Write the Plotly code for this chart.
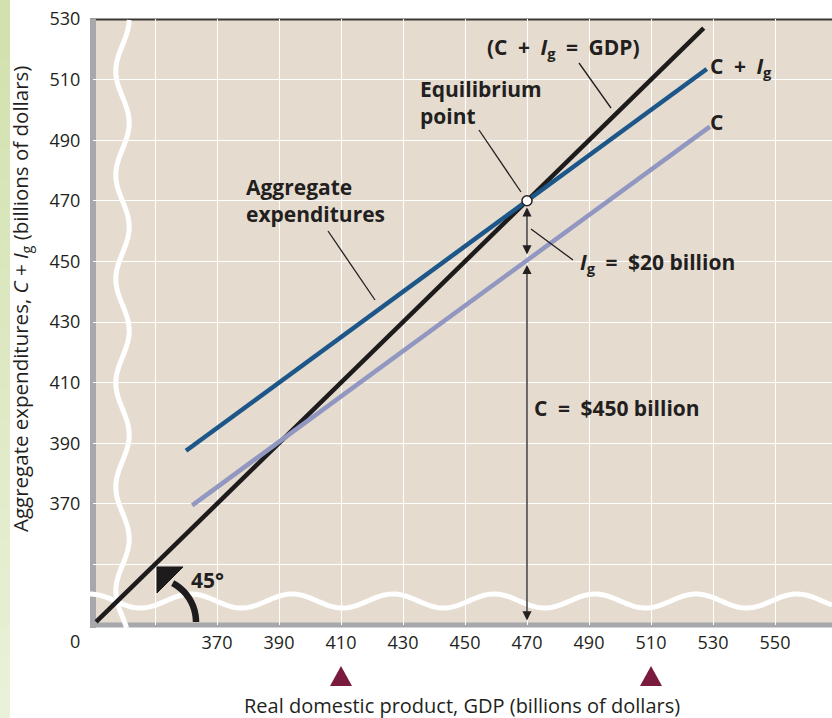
import numpy as np
import plotly.graph_objects as go

# ---------------- data ----------------
gdp_45 = [331, 527]          # 45-degree line (C + Ig = GDP)
ae_45 = [331, 527]
gdp_cig = [360, 528]         # aggregate expenditures C + Ig
cig_vals = [387.5, 513.5]
gdp_c = [362, 529]           # consumption C
c_vals = [369.5, 494.5]
eq_gdp = [470]
eq_ae = [470]
c_at_eq = 450
axis_floor = 331.5
x_ticks = [350, 370, 390, 410, 430, 450, 470, 490, 510, 530, 550]
x_tick_text = ["", "370", "390", "410", "430", "450", "470", "490", "510", "530", "550"]
y_ticks = [350, 370, 390, 410, 430, 450, 470, 490, 510, 530]
y_tick_text = ["", "370", "390", "410", "430", "450", "470", "490", "510", "530"]
marker_gdp = [410, 510]

# ---------------- layout geometry ----------------
WIDTH, HEIGHT = 832, 718
L, T = 93, 19
W, H = 739, 606
XR = [330, 330 + W / 3.1]
YR = [330, 530]

def pxx(px):
    return (px - L) / W

def pxy(py):
    return (T + H - py) / H

def dx(px):
    return XR[0] + (px - L) / W * (XR[1] - XR[0])

def dy(py):
    return YR[1] - (py - T) / H * (YR[1] - YR[0])

INK = "#231f20"
FONT = "Open Sans"
SP = "\u2002"  # wider space, like the original typesetting

fig = go.Figure()

fig.add_trace(go.Scatter(x=gdp_45, y=ae_45, mode="lines",
                         line=dict(color="#1e1b1c", width=4.5), hoverinfo="skip"))
fig.add_trace(go.Scatter(x=gdp_c, y=c_vals, mode="lines",
                         line=dict(color="#9197c0", width=4.5), hoverinfo="skip"))
fig.add_trace(go.Scatter(x=gdp_cig, y=cig_vals, mode="lines",
                         line=dict(color="#1d5688", width=4.5), hoverinfo="skip"))
fig.add_trace(go.Scatter(x=eq_gdp, y=eq_ae, mode="markers",
                         marker=dict(color="white", size=10, line=dict(color=INK, width=1.5)),
                         hoverinfo="skip"))

shapes = []
# green strip on the left (banded gradient)
nb = 24
top_c = np.array([211, 225, 174])
bot_c = np.array([233, 241, 216])
for i in range(nb):
    f = i / (nb - 1)
    col = top_c + (bot_c - top_c) * f
    shapes.append(dict(type="rect", xref="paper", yref="paper",
                       x0=pxx(0), x1=pxx(10), y0=pxy(i * HEIGHT / nb), y1=pxy((i + 1) * HEIGHT / nb + 1),
                       fillcolor="rgb(%d,%d,%d)" % tuple(col), line=dict(width=0), layer="below"))

# borders
shapes.append(dict(type="line", xref="paper", yref="paper", x0=pxx(90), x1=pxx(832), y0=pxy(19.5), y1=pxy(19.5),
                   line=dict(color="#3b3735", width=2), layer="between"))
shapes.append(dict(type="line", xref="paper", yref="paper", x0=pxx(93), x1=pxx(93), y0=pxy(19), y1=pxy(628),
                   line=dict(color="#a6a8ab", width=6), layer="between"))
shapes.append(dict(type="line", xref="paper", yref="paper", x0=pxx(90), x1=pxx(832), y0=pxy(625), y1=pxy(625),
                   line=dict(color="#a6a8ab", width=5), layer="between"))

# axis-break wavy lines
def path_from(pts):
    return "M " + " L ".join("%.5f,%.5f" % (pxx(a), pxy(b)) for a, b in pts)

vy = np.linspace(20, 628, 240)
vx = 122.5 + 6.7 * np.cos(2 * np.pi * (vy - 19) / 104)
shapes.append(dict(type="path", xref="paper", yref="paper", path=path_from(zip(vx, vy)),
                   line=dict(color="white", width=5), layer="between"))
hx = np.linspace(88, 832, 400)
hy = 601 - 7 * np.cos(2 * np.pi * (hx - 90) / 101)
shapes.append(dict(type="path", xref="paper", yref="paper", path=path_from(zip(hx, hy)),
                   line=dict(color="white", width=5), layer="between"))

# 45 degree arc with arrowhead
ang = np.linspace(0, np.radians(62), 40)
ax_ = 152 + 44 * np.cos(ang)
ay_ = 622 - 44 * np.sin(ang)
shapes.append(dict(type="path", xref="paper", yref="paper", path=path_from(zip(ax_, ay_)),
                   line=dict(color="#1e1b1c", width=6.5), layer="above"))
tri = [(157, 567), (183, 567), (157, 593)]
shapes.append(dict(type="path", xref="paper", yref="paper", path=path_from(tri) + " Z",
                   fillcolor="#1e1b1c", line=dict(color="#1e1b1c", width=1), layer="above"))

# maroon triangles under the GDP axis
half = 11 * (XR[1] - XR[0]) / W
for g in marker_gdp:
    shapes.append(dict(type="path", xref="x", yref="paper",
                       path="M %.4f,%.5f L %.4f,%.5f L %.4f,%.5f Z" % (g - half, pxy(686), g + half, pxy(686), g, pxy(666)),
                       fillcolor="#7a1a3e", line=dict(width=0), layer="above"))

# leader lines
for (x0, y0, x1, y1) in [(579, 63, 611, 108), (479, 130, 521, 192), (328, 231, 375, 300), (531, 229, 573, 260)]:
    shapes.append(dict(type="line", xref="x", yref="y", x0=dx(x0), y0=dy(y0), x1=dx(x1), y1=dy(y1),
                       line=dict(color=INK, width=1.3), layer="above"))

annotations = []
# double arrows along the equilibrium GDP
annotations.append(dict(x=eq_gdp[0], y=c_at_eq, ax=eq_gdp[0], ay=eq_ae[0], xref="x", yref="y", axref="x", ayref="y",
                        text="", showarrow=True, arrowhead=2, startarrowhead=2, arrowside="end+start",
                        arrowsize=1.4, startarrowsize=1.4, arrowwidth=1.3, arrowcolor=INK,
                        standoff=7, startstandoff=5))
annotations.append(dict(x=eq_gdp[0], y=axis_floor, ax=eq_gdp[0], ay=c_at_eq, xref="x", yref="y", axref="x", ayref="y",
                        text="", showarrow=True, arrowhead=2, startarrowhead=2, arrowside="end+start",
                        arrowsize=1.4, startarrowsize=1.4, arrowwidth=1.3, arrowcolor=INK,
                        standoff=0, startstandoff=2))

def label(txt, x, y, size=21, xanchor="left", bold=True, align="left"):
    annotations.append(dict(text=("<b>%s</b>" % txt) if bold else txt, xref="paper", yref="paper",
                            x=pxx(x), y=pxy(y), xanchor=xanchor, yanchor="middle", showarrow=False,
                            align=align, font=dict(family=FONT, size=size, color=INK)))

label("(C" + SP + "+" + SP + "<i>I</i><sub>g</sub>" + SP + "=" + SP + "GDP)", 563, 48, xanchor="center")
label("C" + SP + "+" + SP + "<i>I</i><sub>g</sub>", 708, 67)
label("C", 708, 122)
label("Equilibrium<br>point", 418, 102)
label("Aggregate<br>expenditures", 244, 200)
label("<i>I</i><sub>g</sub>" + SP + "=" + SP + "$20 billion", 578, 263)
label("C" + SP + "=" + SP + "$450 billion", 532, 408)
label("45°", 189, 580)
label("0", 75, 641, size=18, xanchor="center", bold=False)

annotations.append(dict(text="Aggregate expenditures, <i>C</i> + <i>I</i><sub>g</sub> (billions of dollars)",
                        xref="paper", yref="paper", x=pxx(21), y=pxy(299), textangle=-90,
                        xanchor="center", yanchor="middle", showarrow=False,
                        font=dict(family=FONT, size=20.5, color=INK)))
annotations.append(dict(text="Real domestic product, GDP (billions of dollars)",
                        xref="paper", yref="paper", x=pxx(462), y=pxy(705),
                        xanchor="center", yanchor="middle", showarrow=False,
                        font=dict(family=FONT, size=20, color=INK)))

fig.update_layout(
    width=WIDTH, height=HEIGHT,
    margin=dict(l=L, r=0, t=T, b=HEIGHT - T - H, pad=0),
    paper_bgcolor="white", plot_bgcolor="#e5dccf",
    showlegend=False,
    shapes=shapes, annotations=annotations,
    xaxis=dict(range=XR, tickvals=x_ticks, ticktext=x_tick_text, showgrid=True, gridcolor="white",
               gridwidth=1.2, zeroline=False, showline=False, ticks="outside", ticklen=1,
               tickcolor="rgba(0,0,0,0)", tickfont=dict(family=FONT, size=18, color=INK), fixedrange=True),
    yaxis=dict(range=YR, tickvals=y_ticks, ticktext=y_tick_text, showgrid=True, gridcolor="white",
               gridwidth=1.2, zeroline=False, showline=False, ticks="outside", ticklen=8,
               tickcolor="rgba(0,0,0,0)", tickfont=dict(family=FONT, size=18, color=INK), fixedrange=True),
)

fig.write_html("out.html", config={"displayModeBar": False},
               post_script="document.body.style.margin='0';document.body.style.padding='0';"
                           "document.body.style.overflow='hidden';")
